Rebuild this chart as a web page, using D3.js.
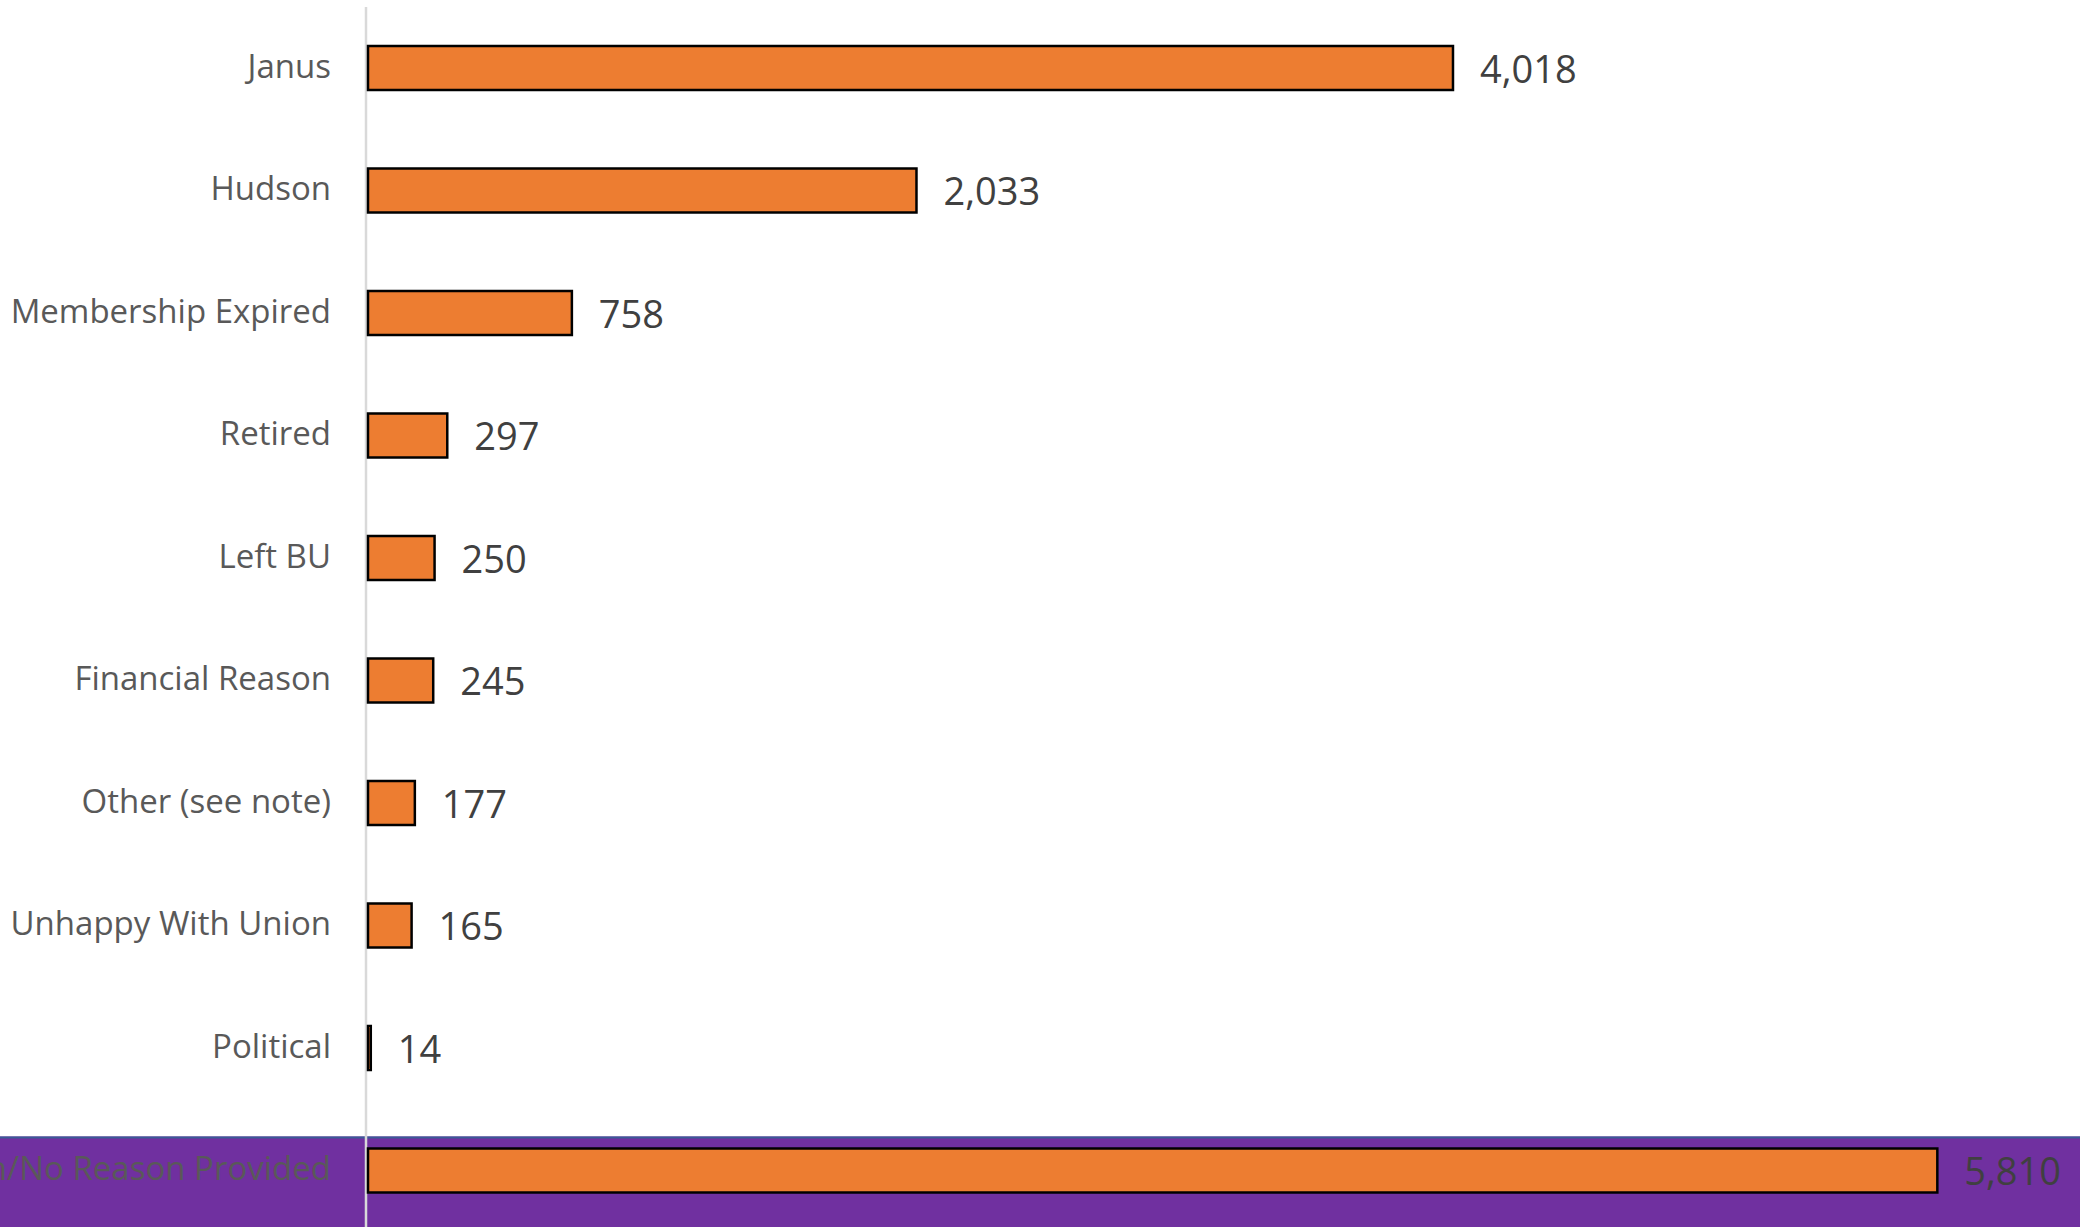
<!DOCTYPE html>
<html>
<head>
<meta charset="utf-8">
<script src="https://cdn.jsdelivr.net/npm/d3@7"></script>
<style>
  html, body { margin: 0; padding: 0; background: #fff; }
  svg { display: block; }
  text { font-family: "Open Sans", sans-serif; }
</style>
</head>
<body>
<svg id="chart" width="2080" height="1227"></svg>
<script>
const categories = ["Janus", "Hudson", "Membership Expired", "Retired", "Left BU",
  "Financial Reason", "Other (see note)", "Unhappy With Union", "Political",
  "Unknown/No Reason Provided"];
const values = [4018, 2033, 758, 297, 250, 245, 177, 165, 14, 5810];
const highlighted = "Unknown/No Reason Provided";

const W = 2080, H = 1227;
const axisX = 367;
const svg = d3.select("#chart");

const x = d3.scaleLinear().domain([0, 6000]).range([axisX, axisX + 6000 * 0.27028]);
const y = d3.scaleBand().domain(categories).range([6.75, 1231.75])
  .paddingInner(0.6245).paddingOuter(0.31225);

const data = categories.map((c, i) => ({ c, v: values[i] }));

// highlight band
const hy = y(highlighted) - y.step() * 0.09;
svg.append("rect").attr("x", 0).attr("y", hy).attr("width", W).attr("height", H - hy)
  .attr("fill", "#7030A0");
svg.append("line").attr("x1", 0).attr("x2", W).attr("y1", hy + 1).attr("y2", hy + 1)
  .attr("stroke", "#3A5B96").attr("stroke-width", 2);

// axis line
svg.append("line").attr("x1", axisX - 1).attr("x2", axisX - 1).attr("y1", 7).attr("y2", H)
  .attr("stroke", "#D9D9D9").attr("stroke-width", 2.5);

// bars
svg.selectAll("rect.bar").data(data).join("rect").attr("class", "bar")
  .attr("x", x(0) + 1)
  .attr("y", d => y(d.c) + 1)
  .attr("width", d => Math.max(0, x(d.v) - x(0) - 1))
  .attr("height", y.bandwidth() - 2)
  .attr("fill", "#ED7D31").attr("stroke", "#000").attr("stroke-width", 2.5);

// category labels
svg.selectAll("text.cat").data(data).join("text").attr("class", "cat")
  .attr("x", 331).attr("y", d => y(d.c) + y.bandwidth() / 2 - 2)
  .attr("dy", "0.36em").attr("text-anchor", "end")
  .attr("font-size", 33).attr("fill", "#595959")
  .text(d => d.c);

// value labels
const fmt = d3.format(",");
svg.selectAll("text.val").data(data).join("text").attr("class", "val")
  .attr("x", d => x(d.v) + 27).attr("y", d => y(d.c) + y.bandwidth() / 2 + 1)
  .attr("dy", "0.36em")
  .attr("font-size", 38).attr("fill", "#404040")
  .text(d => fmt(d.v));
</script>
</body>
</html>
